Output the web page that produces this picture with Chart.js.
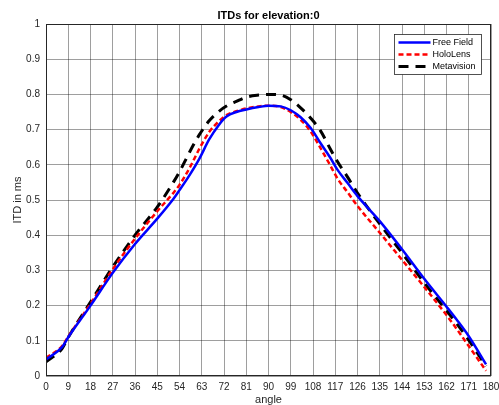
<!DOCTYPE html>
<html>
<head>
<meta charset="utf-8">
<script src="https://cdn.jsdelivr.net/npm/chart.js@4"></script>
<style>
  html, body { margin: 0; padding: 0; background: #fff; }
  #wrap { width: 499px; height: 405px; }
</style>
</head>
<body>
<div id="wrap"><canvas id="itdChart" width="499" height="405"></canvas></div>
<script>
const angles = [0, 6.5, 9, 18, 27, 36, 45, 51.5, 54, 58, 62, 66, 70, 73, 77, 81, 86, 90, 95,
    99, 103, 107, 111, 115, 118, 122, 126, 135, 144, 153, 162, 166, 171, 178];

const freeField = [0.047, 0.082, 0.11, 0.2, 0.293, 0.375, 0.447, 0.503, 0.528, 0.57, 0.617,
    0.672, 0.714, 0.737, 0.75, 0.757, 0.764, 0.768, 0.766, 0.755, 0.735, 0.705, 0.662, 0.62,
    0.585, 0.548, 0.511, 0.44, 0.36, 0.276, 0.197, 0.161, 0.113, 0.033];

const holoLens = [0.052, 0.085, 0.112, 0.205, 0.303, 0.39, 0.468, 0.52, 0.543, 0.59, 0.645,
    0.693, 0.724, 0.741, 0.752, 0.76, 0.766, 0.768, 0.764, 0.75, 0.728, 0.695, 0.648, 0.598,
    0.56, 0.522, 0.483, 0.407, 0.33, 0.253, 0.173, 0.135, 0.085, 0.015];

const metavision = [0.04, 0.078, 0.11, 0.21, 0.31, 0.4, 0.48, 0.55, 0.58, 0.635, 0.685,
    0.725, 0.752, 0.767, 0.78, 0.792, 0.798, 0.8, 0.798, 0.785, 0.762, 0.733, 0.697, 0.645,
    0.608, 0.565, 0.52, 0.432, 0.35, 0.265, 0.186, 0.15, 0.102, 0.028];

const seriesNames = ['Free Field', 'HoloLens', 'Metavision'];
const chartTitle = 'ITDs for elevation:0';
const xTicks = { min: 0, max: 180, step: 9 };
const yTicks = { min: 0, max: 1, step: 0.1 };

const FONT = '"Liberation Sans", Arial, Helvetica, sans-serif';

function toPoints(values) {
    return values.map((v, i) => ({ x: angles[i], y: v }));
}

// title over the plot area, box around the axes + legend inside, matlab style
const boxAndLegend = {
    id: 'boxAndLegend',
    afterDatasetsDraw(chart) {
        const ctx = chart.ctx;
        const a = chart.chartArea;
        ctx.save();
        ctx.strokeStyle = '#262626';
        ctx.lineWidth = 1;
        ctx.strokeRect(a.left + 0.5, a.top + 0.5, a.right - a.left - 1, a.bottom - a.top - 1);

        ctx.fillStyle = '#000';
        ctx.font = 'bold 11px ' + FONT;
        ctx.textAlign = 'center';
        ctx.textBaseline = 'middle';
        ctx.fillText(chartTitle, (a.left + a.right) / 2, 16);

        const bx = 394.5, by = 34.5, bw = 87, bh = 40;
        ctx.fillStyle = '#fff';
        ctx.fillRect(bx, by, bw, bh);
        ctx.lineWidth = 0.8;
        ctx.strokeStyle = '#262626';
        ctx.strokeRect(bx, by, bw, bh);

        ctx.font = '9px ' + FONT;
        ctx.textAlign = 'left';
        chart.data.datasets.forEach((ds, i) => {
            const y = by + 8 + i * 12;
            ctx.beginPath();
            ctx.setLineDash(ds.borderDash || []);
            ctx.lineWidth = ds.borderWidth;
            ctx.strokeStyle = ds.borderColor;
            ctx.moveTo(bx + 4, y);
            ctx.lineTo(bx + 36, y);
            ctx.stroke();
            ctx.setLineDash([]);
            ctx.fillStyle = '#000';
            ctx.fillText(ds.label, bx + 38, y + 0.5);
        });
        ctx.restore();
    }
};

const ctx = document.getElementById('itdChart').getContext('2d');
new Chart(ctx, {
    type: 'line',
    data: {
        datasets: [
            {
                label: seriesNames[0],
                data: toPoints(freeField),
                borderColor: '#0000ff',
                borderWidth: 2.5,
                pointRadius: 0,
                cubicInterpolationMode: 'monotone'
            },
            {
                label: seriesNames[1],
                data: toPoints(holoLens),
                borderColor: '#ff0000',
                borderWidth: 2.5,
                borderDash: [5, 3],
                pointRadius: 0,
                cubicInterpolationMode: 'monotone'
            },
            {
                label: seriesNames[2],
                data: toPoints(metavision),
                borderColor: '#000000',
                borderWidth: 3,
                borderDash: [10, 7],
                pointRadius: 0,
                cubicInterpolationMode: 'monotone'
            }
        ]
    },
    options: {
        responsive: false,
        animation: false,
        layout: { padding: { top: 24, right: 0, left: 0, bottom: 0 } },
        plugins: {
            legend: { display: false },
            tooltip: { enabled: false },
            title: { display: false }
        },
        scales: {
            x: {
                type: 'linear',
                min: xTicks.min,
                max: xTicks.max,
                afterFit(scale) {
                    scale.height = 29;
                    scale.paddingLeft = 0;
                    scale.paddingRight = 8;
                },
                afterBuildTicks(scale) {
                    const t = [];
                    for (let v = xTicks.min; v <= xTicks.max; v += xTicks.step) t.push({ value: v });
                    scale.ticks = t;
                },
                grid: { color: 'rgba(0,0,0,0.38)', lineWidth: 1, drawTicks: false },
                border: { display: false },
                ticks: {
                    color: '#262626',
                    font: { family: FONT, size: 10 },
                    padding: 5,
                    maxRotation: 0,
                    autoSkip: false
                },
                title: {
                    display: true,
                    text: 'angle',
                    color: '#262626',
                    font: { family: FONT, size: 11, lineHeight: 1 },
                    padding: 0
                }
            },
            y: {
                min: yTicks.min,
                max: yTicks.max,
                afterFit(scale) {
                    scale.width = 46;
                    scale.paddingTop = 0;
                    scale.paddingBottom = 0;
                },
                afterBuildTicks(scale) {
                    const t = [];
                    for (let i = 0; i <= 10; i++) t.push({ value: +(yTicks.min + i * yTicks.step).toFixed(1) });
                    scale.ticks = t;
                },
                grid: { color: 'rgba(0,0,0,0.38)', lineWidth: 1, drawTicks: false },
                border: { display: false },
                ticks: {
                    color: '#262626',
                    font: { family: FONT, size: 10 },
                    padding: 6,
                    callback: (v) => String(+v.toFixed(1))
                },
                title: {
                    display: true,
                    text: 'ITD in ms',
                    color: '#262626',
                    font: { family: FONT, size: 11, lineHeight: 1 },
                    padding: { top: 12 }
                }
            }
        }
    },
    plugins: [boxAndLegend]
});
</script>
</body>
</html>
